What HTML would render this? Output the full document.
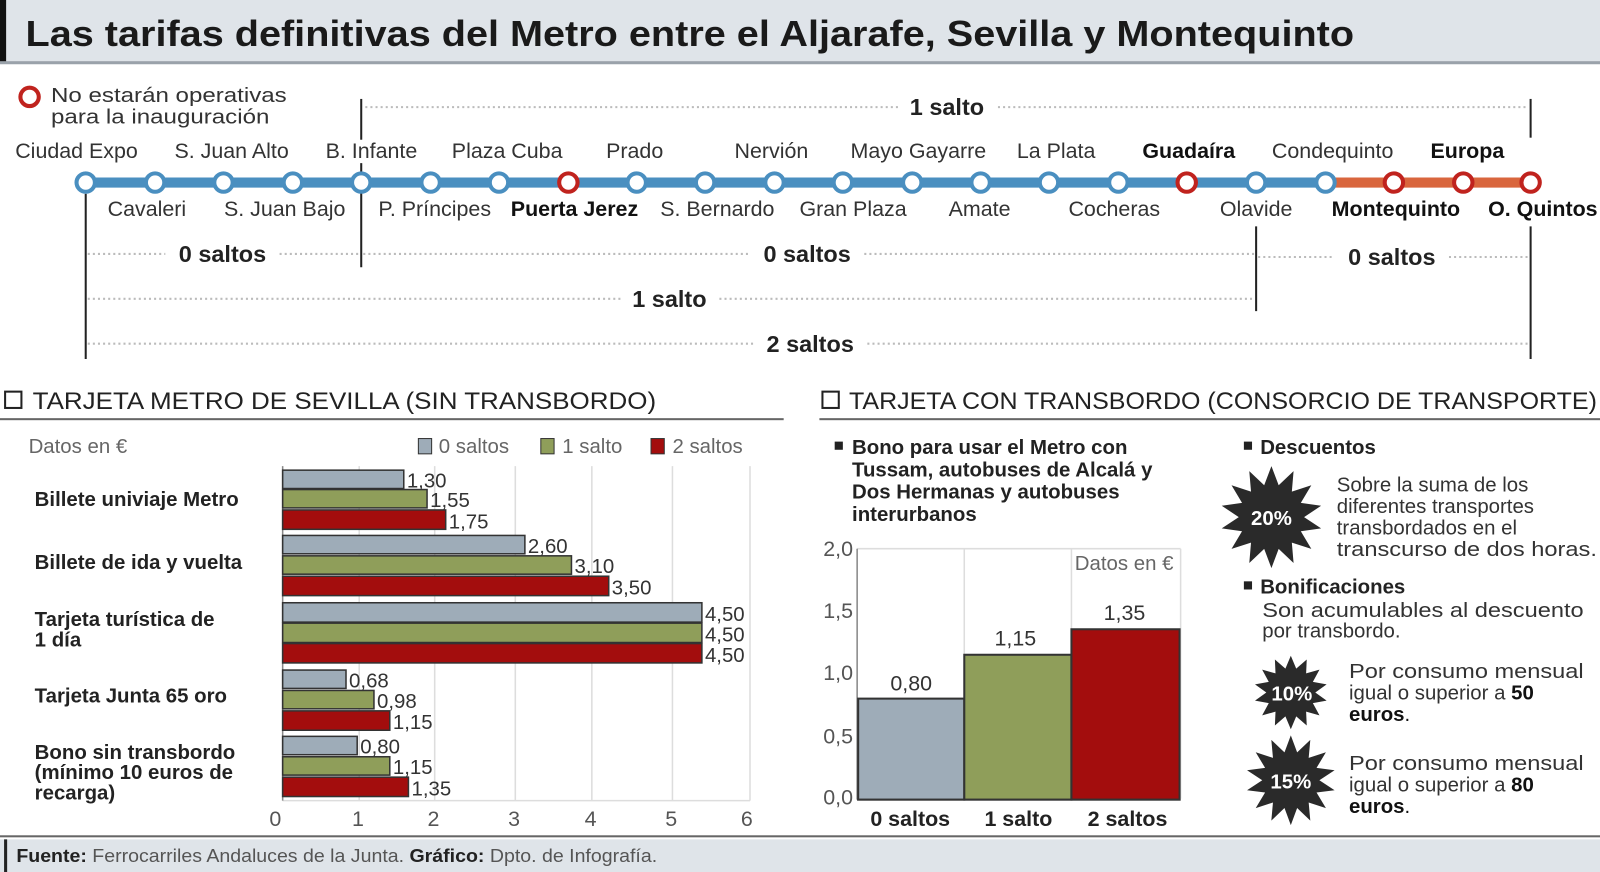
<!DOCTYPE html>
<html><head><meta charset="utf-8"><style>
html,body{margin:0;padding:0;background:#fff;}
svg{display:block;}
text{font-family:"Liberation Sans",sans-serif;}
.st{font-size:21px;fill:#333;text-anchor:middle;}
.stb{font-size:21px;fill:#111;text-anchor:middle;font-weight:bold;}
.sal{font-size:23px;fill:#222;text-anchor:middle;font-weight:bold;}
.cat{font-size:20px;font-weight:bold;fill:#222;}
.val{font-size:20px;fill:#333;}
.tick{font-size:21px;fill:#555;}
.body{font-size:20px;fill:#333;}
</style></head><body>
<svg id="s" width="1600" height="872" viewBox="0 0 1568 855" preserveAspectRatio="none">
<rect x="0" y="0" width="1568" height="62" fill="#dfe4e9"/>
<rect x="0" y="0" width="6" height="62" fill="#111"/>
<rect x="0" y="60" width="1568" height="3" fill="#9aa2aa"/>
<text x="25" y="45" font-size="35" font-weight="bold" fill="#1a1a1a" textLength="1302" lengthAdjust="spacingAndGlyphs">Las tarifas definitivas del Metro entre el Aljarafe, Sevilla y Montequinto</text>

<circle cx="29" cy="95" r="9" fill="#fff" stroke="#c0231e" stroke-width="4"/>
<text x="50" y="100" font-size="20" fill="#333" textLength="231" lengthAdjust="spacingAndGlyphs">No estarán operativas</text>
<text x="50" y="121" font-size="20" fill="#333" textLength="214" lengthAdjust="spacingAndGlyphs">para la inauguración</text>

<g stroke="#222" stroke-width="2">
<line x1="354" y1="97" x2="354" y2="137"/><line x1="354" y1="160" x2="354" y2="262"/>
<line x1="84" y1="190" x2="84" y2="352"/>
<line x1="1500" y1="97" x2="1500" y2="135"/><line x1="1500" y1="222" x2="1500" y2="352"/>
<line x1="1231" y1="222" x2="1231" y2="305"/>
</g>
<g stroke="#bbb" stroke-width="2" stroke-dasharray="2,3">
<line x1="358" y1="105" x2="880" y2="105"/><line x1="978" y1="105" x2="1498" y2="105"/>
<line x1="86" y1="249" x2="162" y2="249"/><line x1="274" y1="249" x2="352" y2="249"/>
<line x1="356" y1="249" x2="735" y2="249"/><line x1="847" y1="249" x2="1229" y2="249"/>
<line x1="1233" y1="252" x2="1308" y2="252"/><line x1="1420" y1="252" x2="1498" y2="252"/>
<line x1="86" y1="293" x2="608" y2="293"/><line x1="705" y1="293" x2="1229" y2="293"/>
<line x1="86" y1="337" x2="738" y2="337"/><line x1="850" y1="337" x2="1498" y2="337"/>
</g>
<text class="sal" x="928" y="113">1 salto</text>
<text class="sal" x="218" y="257">0 saltos</text>
<text class="sal" x="791" y="257">0 saltos</text>
<text class="sal" x="1364" y="260">0 saltos</text>
<text class="sal" x="656" y="301">1 salto</text>
<text class="sal" x="794" y="345">2 saltos</text>

<line x1="84" y1="179" x2="1299" y2="179" stroke="#4a8fc0" stroke-width="10"/>
<line x1="1299" y1="179" x2="1500" y2="179" stroke="#d9663d" stroke-width="10"/>
<g id="stations" stroke-width="4" fill="#fff"></g>

<g class="st">
<text x="75" y="155">Ciudad Expo</text><text x="227" y="155">S. Juan Alto</text><text x="364" y="155">B. Infante</text>
<text x="497" y="155">Plaza Cuba</text><text x="622" y="155">Prado</text><text x="756" y="155">Nervión</text>
<text x="900" y="155">Mayo Gayarre</text><text x="1035" y="155">La Plata</text><text x="1306" y="155">Condequinto</text>
<text x="144" y="212">Cavaleri</text><text x="279" y="212">S. Juan Bajo</text><text x="426" y="212">P. Príncipes</text>
<text x="703" y="212">S. Bernardo</text><text x="836" y="212">Gran Plaza</text><text x="960" y="212">Amate</text>
<text x="1092" y="212">Cocheras</text><text x="1231" y="212">Olavide</text>
</g>
<g class="stb">
<text x="1165" y="155">Guadaíra</text><text x="1438" y="155">Europa</text>
<text x="563" y="212">Puerta Jerez</text><text x="1368" y="212">Montequinto</text><text x="1512" y="212">O. Quintos</text>
</g>

<rect x="5" y="384" width="16" height="16" fill="none" stroke="#222" stroke-width="2"/>
<text x="32" y="401" font-size="24" fill="#222" textLength="611" lengthAdjust="spacingAndGlyphs">TARJETA METRO DE SEVILLA (SIN TRANSBORDO)</text>
<rect x="0" y="410" width="768" height="2" fill="#666"/>
<rect x="806" y="384" width="16" height="16" fill="none" stroke="#222" stroke-width="2"/>
<text x="832" y="401" font-size="24" fill="#222" textLength="733" lengthAdjust="spacingAndGlyphs">TARJETA CON TRANSBORDO (CONSORCIO DE TRANSPORTE)</text>
<rect x="803" y="410" width="765" height="2" fill="#666"/>

<text x="28" y="444" font-size="20" fill="#666">Datos  en €</text>
<rect x="410" y="430" width="13" height="15" fill="#9eacb8" stroke="#333"/><text x="430" y="444" font-size="20" fill="#666">0 saltos</text>
<rect x="530" y="430" width="13" height="15" fill="#8f9e5a" stroke="#333"/><text x="551" y="444" font-size="20" fill="#666">1 salto</text>
<rect x="638" y="430" width="13" height="15" fill="#a30d0d" stroke="#333"/><text x="659" y="444" font-size="20" fill="#666">2 saltos</text>
<g stroke="#ddd" stroke-width="1.5">
<line x1="352" y1="457" x2="352" y2="785"/><line x1="426" y1="457" x2="426" y2="785"/><line x1="505" y1="457" x2="505" y2="785"/>
<line x1="580" y1="457" x2="580" y2="785"/><line x1="659" y1="457" x2="659" y2="785"/><line x1="735" y1="457" x2="735" y2="785"/>
<line x1="277" y1="785" x2="735" y2="785"/>
</g>
<line x1="277" y1="457" x2="277" y2="785" stroke="#888" stroke-width="1.5"/>
<g id="bars" stroke="#333" stroke-width="1.5"></g>
<g class="tick">
<text x="264" y="810">0</text><text x="345" y="810">1</text><text x="419" y="810">2</text><text x="498" y="810">3</text>
<text x="573" y="810">4</text><text x="652" y="810">5</text><text x="726" y="810">6</text>
</g>
<g class="cat">
<text x="34" y="496">Billete univiaje Metro</text>
<text x="34" y="558">Billete de ida y vuelta</text>
<text x="34" y="614">Tarjeta turística de</text><text x="34" y="634">1 día</text>
<text x="34" y="689">Tarjeta Junta 65 oro</text>
<text x="34" y="744">Bono sin transbordo</text><text x="34" y="764">(mínimo 10 euros de</text><text x="34" y="784">recarga)</text>
</g>

<g font-size="20" font-weight="bold" fill="#222">
<rect x="818" y="433" width="8" height="8" fill="#222"/>
<text x="835" y="445">Bono para usar el Metro con</text>
<text x="835" y="467">Tussam, autobuses de Alcalá y</text>
<text x="835" y="489">Dos Hermanas y autobuses</text>
<text x="835" y="511">interurbanos</text>
</g>
<g stroke="#ddd" stroke-width="1.5">
<line x1="840" y1="538" x2="1157" y2="538"/><line x1="945" y1="538" x2="945" y2="783"/><line x1="1050" y1="538" x2="1050" y2="783"/><line x1="1157" y1="538" x2="1157" y2="783"/>
</g>
<line x1="840" y1="538" x2="840" y2="784" stroke="#888" stroke-width="1.5"/>
<line x1="840" y1="784" x2="1157" y2="784" stroke="#555" stroke-width="2"/>
<g class="tick" text-anchor="end">
<text x="836" y="545">2,0</text><text x="836" y="606">1,5</text><text x="836" y="667">1,0</text><text x="836" y="729">0,5</text><text x="836" y="789">0,0</text>
</g>
<text x="1150" y="559" font-size="20" fill="#666" text-anchor="end">Datos en €</text>
<rect x="841" y="685" width="104" height="99" fill="#9eacb8" stroke="#333" stroke-width="2"/>
<rect x="945" y="642" width="105" height="142" fill="#8f9e5a" stroke="#333" stroke-width="2"/>
<rect x="1050" y="617" width="106" height="167" fill="#a30d0d" stroke="#333" stroke-width="2"/>
<g font-size="21" fill="#333" text-anchor="middle">
<text x="893" y="677">0,80</text><text x="995" y="633">1,15</text><text x="1102" y="608">1,35</text>
</g>
<g font-size="21" font-weight="bold" fill="#222" text-anchor="middle">
<text x="892" y="810">0 saltos</text><text x="998" y="810">1 salto</text><text x="1105" y="810">2 saltos</text>
</g>

<g id="stars" fill="#2a2a2a"></g>
<g font-size="20" font-weight="bold" fill="#222">
<rect x="1219" y="433" width="8" height="8" fill="#222"/><text x="1235" y="445">Descuentos</text>
<rect x="1219" y="570" width="8" height="8" fill="#222"/><text x="1235" y="582">Bonificaciones</text>
</g>
<g font-size="20" font-weight="bold" fill="#fff" text-anchor="middle">
<text x="1246" y="515">20%</text><text x="1266" y="687">10%</text><text x="1265" y="773">15%</text>
</g>
<g class="body">
<text x="1310" y="482">Sobre la suma de los</text><text x="1310" y="503">diferentes transportes</text>
<text x="1310" y="524">transbordados en el</text><text x="1310" y="545" textLength="255" lengthAdjust="spacingAndGlyphs">transcurso de dos horas.</text>
<text x="1237" y="605" textLength="315" lengthAdjust="spacingAndGlyphs">Son acumulables al descuento</text><text x="1237" y="625">por transbordo.</text>
<text x="1322" y="665" textLength="230" lengthAdjust="spacingAndGlyphs">Por consumo mensual</text><text x="1322" y="686">igual o superior a <tspan font-weight="bold" fill="#111">50</tspan></text><text x="1322" y="707" font-weight="bold" fill="#111">euros<tspan font-weight="normal">.</tspan></text>
<text x="1322" y="755" textLength="230" lengthAdjust="spacingAndGlyphs">Por consumo mensual</text><text x="1322" y="776">igual o superior a <tspan font-weight="bold" fill="#111">80</tspan></text><text x="1322" y="797" font-weight="bold" fill="#111">euros<tspan font-weight="normal">.</tspan></text>
</g>

<rect x="0" y="819" width="1568" height="2" fill="#666"/>
<rect x="0" y="823" width="1568" height="32" fill="#dfe4e9"/>
<rect x="4" y="823" width="3" height="32" fill="#222"/>
<text x="16" y="845" font-size="18" fill="#555" textLength="628" lengthAdjust="spacingAndGlyphs"><tspan font-weight="bold" fill="#222">Fuente:</tspan> Ferrocarriles Andaluces de la Junta. <tspan font-weight="bold" fill="#222">Gráfico:</tspan> Dpto. de Infografía.</text>
</svg>
<script>
var NS="http://www.w3.org/2000/svg";
function el(p,t,a){var e=document.createElementNS(NS,t);for(var k in a)e.setAttribute(k,a[k]);p.appendChild(e);return e;}
var xs=[84,152,219,287,354,422,489,557,624,691,759,826,894,961,1028,1096,1163,1231,1299,1366,1434,1500];
var red=[557,1163,1366,1434,1500];
var g=document.getElementById("stations");
xs.forEach(function(x){el(g,"circle",{cx:x,cy:179,r:9,stroke:red.indexOf(x)>=0?"#c0231e":"#4a8fc0"});});
var data=[[1.30,1.55,1.75],[2.60,3.10,3.50],[4.50,4.50,4.50],[0.68,0.98,1.15],[0.80,1.15,1.35]];
var tops=[[461,480,500],[525,545,565],[591,611,631],[657,677,697],[722,742,762]];
var hs=[[18,18,19],[18,18,19],[19,19,19],[18,18,19],[18,18,19]];
var cols=["#9eacb8","#8f9e5a","#a30d0d"];
var b=document.getElementById("bars");
data.forEach(function(r,i){r.forEach(function(v,j){
 var w=v*91.3; el(b,"rect",{x:277,y:tops[i][j],width:w,height:hs[i][j],fill:cols[j]});
 var t=el(b,"text",{x:277+w+3,y:tops[i][j]+hs[i][j]-1,"class":"val",stroke:"none"});t.textContent=v.toFixed(2).replace(".",",");
});});
function star(cx,cy,ro,ri,n){var p=[];for(var i=0;i<2*n;i++){var r=i%2?ri:ro,a=Math.PI*i/n-Math.PI/2;p.push((cx+r*Math.cos(a)).toFixed(1)+","+(cy+r*Math.sin(a)).toFixed(1));}return p.join(" ");}
var s=document.getElementById("stars");
el(s,"polygon",{points:star(1246,507,50,32,14)});
el(s,"polygon",{points:star(1265,679,36,24,14)});
el(s,"polygon",{points:star(1265,765,44,28,14)});
</script>
</body></html>
